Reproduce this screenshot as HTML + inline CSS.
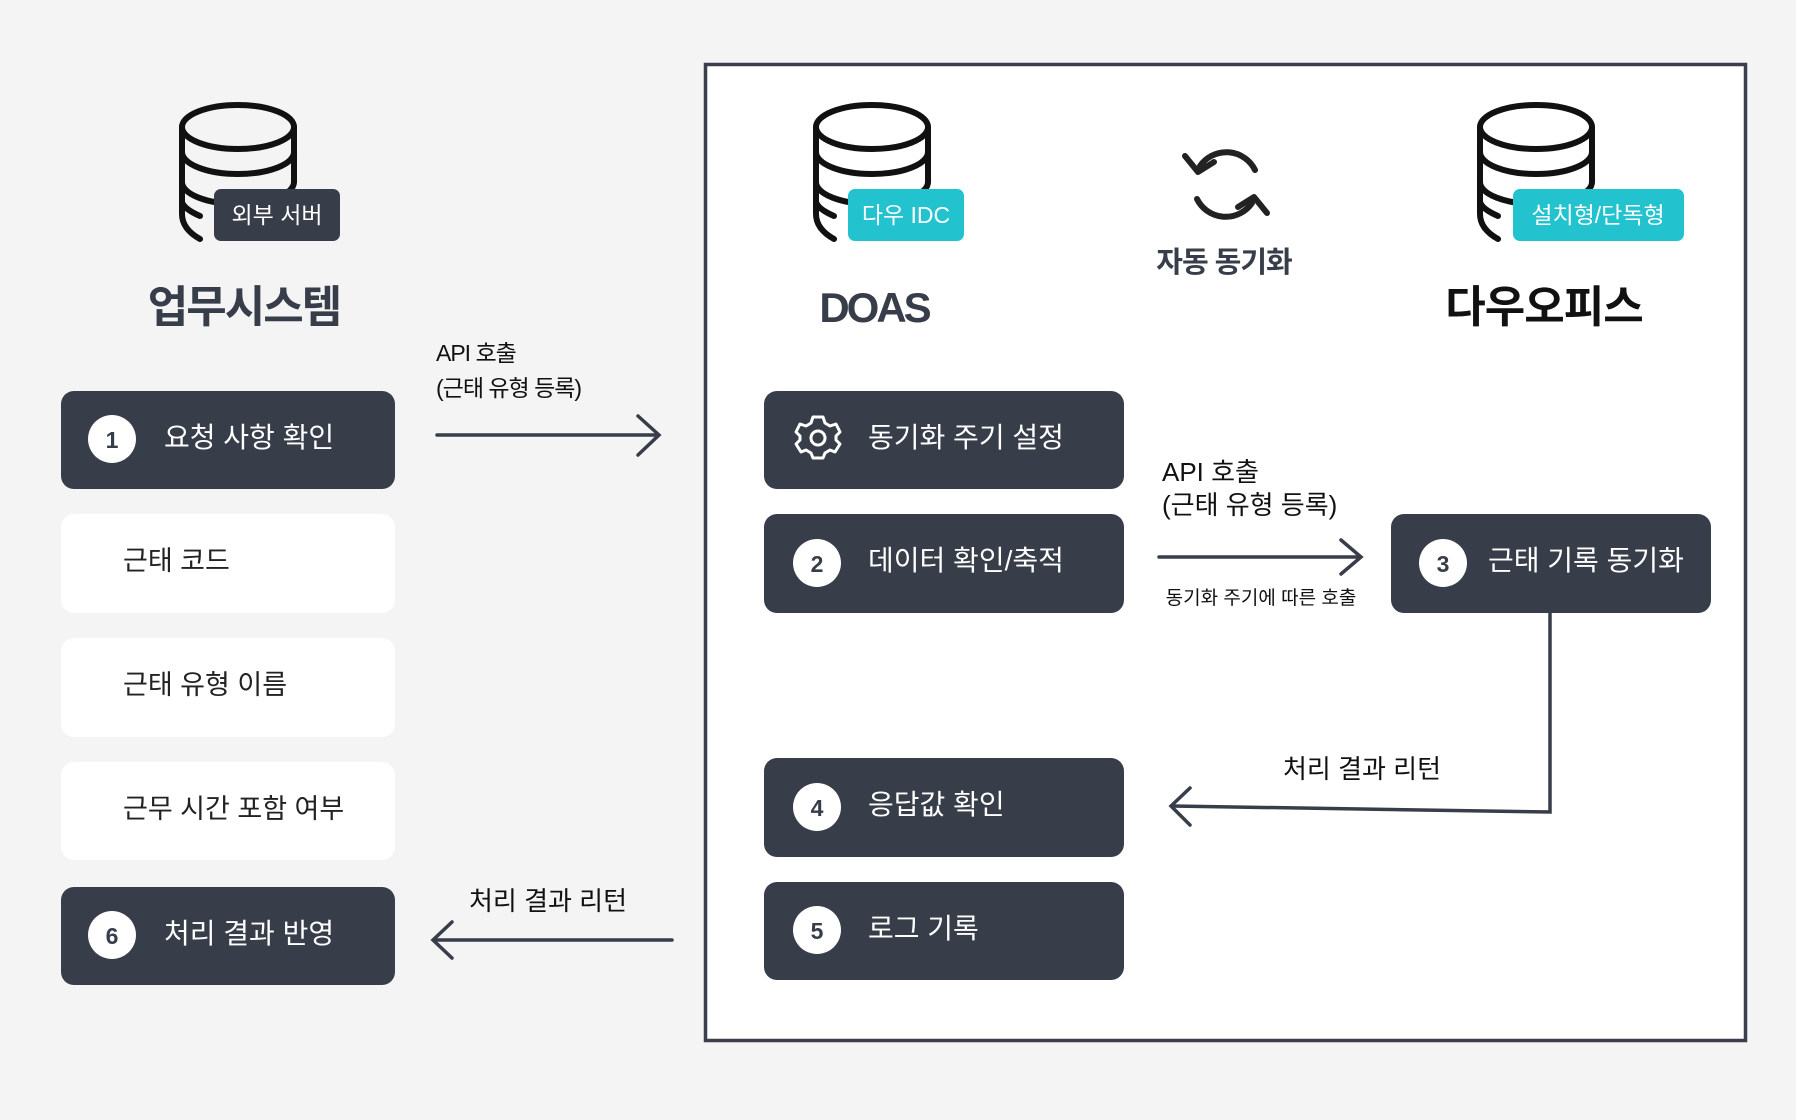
<!DOCTYPE html>
<html><head><meta charset="utf-8"><style>
html,body{margin:0;padding:0;background:#f4f4f4;}
svg{display:block;font-family:"Liberation Sans","Noto Sans CJK KR",sans-serif;}
</style></head><body>
<svg width="1796" height="1120" viewBox="0 0 1796 1120" xmlns="http://www.w3.org/2000/svg">
<rect width="1796" height="1120" fill="#f4f4f4"/>
<rect x="705.5" y="64.5" width="1040" height="976" fill="#fff" stroke="#3a3f4b" stroke-width="3.5"/>
<defs>
<g id="db" fill="none" stroke="#111" stroke-width="6" stroke-linecap="round">
<ellipse cx="0" cy="23" rx="56" ry="22"/>
<path d="M-56,23 V110 Q-56,125 -38,135"/>
<path d="M56,23 V78"/>
<path d="M-56,48 A56,22 0 0 0 56,48"/>
<path d="M-56,78 A56,22 0 0 0 56,78"/>
<path d="M-56,98 Q-54,105 -38,112"/>
</g>
</defs>
<use href="#db" x="238" y="104"/>
<rect x="214" y="189" width="126" height="52" rx="7" fill="#383d4a"/>
<text x="277" y="223" font-size="23" fill="#fff" text-anchor="middle">외부 서버</text>
<use href="#db" x="872" y="104"/>
<rect x="848" y="189" width="116" height="52" rx="7" fill="#22c3cf"/>
<text x="906" y="223" font-size="23" fill="#fff" text-anchor="middle">다우 IDC</text>
<use href="#db" x="1536" y="104"/>
<rect x="1513" y="189" width="171" height="52" rx="7" fill="#22c3cf"/>
<text x="1598" y="223" font-size="23" fill="#fff" text-anchor="middle">설치형/단독형</text>

<text x="244" y="322" font-size="44" font-weight="bold" fill="#383d4a" text-anchor="middle" letter-spacing="-2">업무시스템</text>
<text x="874" y="322" font-size="42" font-weight="bold" fill="#383d4a" text-anchor="middle" letter-spacing="-3">DOAS</text>
<text x="1544" y="322" font-size="44" font-weight="bold" fill="#111" text-anchor="middle" letter-spacing="-1">다우오피스</text>
<g fill="none" stroke="#222" stroke-width="6" stroke-linecap="round" stroke-linejoin="round">
<path d="M1255,170 A32,32 0 0 0 1200,166"/>
<path d="M1185,156 L1198,172 L1214,162"/>
<path d="M1197,199 A32,32 0 0 0 1252,203"/>
<path d="M1267,213 L1254,197 L1238,207"/>
</g>
<text x="1224" y="272" font-size="29" font-weight="bold" fill="#383d4a" text-anchor="middle" letter-spacing="-1">자동 동기화</text>

<rect x="61" y="391" width="334" height="98" rx="13" fill="#383d4a"/>
<circle cx="112" cy="439" r="24" fill="#fff"/><text x="112" y="448" font-size="23" font-weight="bold" fill="#383d4a" text-anchor="middle">1</text>
<text x="164" y="447" font-size="28" fill="#fff">요청 사항 확인</text>
<rect x="61" y="514" width="334" height="99" rx="13" fill="#fff"/>
<text x="123" y="570" font-size="27" fill="#222">근태 코드</text>
<rect x="61" y="638" width="334" height="99" rx="13" fill="#fff"/>
<text x="123" y="694" font-size="27" fill="#222">근태 유형 이름</text>
<rect x="61" y="762" width="334" height="98" rx="13" fill="#fff"/>
<text x="123" y="818" font-size="27" fill="#222">근무 시간 포함 여부</text>
<rect x="61" y="887" width="334" height="98" rx="13" fill="#383d4a"/>
<circle cx="112" cy="935" r="24" fill="#fff"/><text x="112" y="944" font-size="23" font-weight="bold" fill="#383d4a" text-anchor="middle">6</text>
<text x="164" y="943" font-size="28" fill="#fff">처리 결과 반영</text>

<rect x="764" y="391" width="360" height="98" rx="13" fill="#383d4a"/>
<g transform="translate(818,437)" fill="none" stroke="#fff" stroke-width="3" stroke-linejoin="round">
<path d="M-5,-20 L5,-20 L7,-14 L12,-11 L18,-13 L22,-5 L18,-1 L18,3 L22,7 L17,15 L12,13 L7,16 L5,21 L-5,21 L-7,16 L-12,13 L-17,15 L-22,7 L-18,3 L-18,-1 L-22,-5 L-18,-13 L-12,-11 L-7,-14 Z"/>
<circle cx="0" cy="1" r="7"/>
</g>
<text x="868" y="447" font-size="28" fill="#fff">동기화 주기 설정</text>
<rect x="764" y="514" width="360" height="99" rx="13" fill="#383d4a"/>
<circle cx="817" cy="563" r="24" fill="#fff"/><text x="817" y="572" font-size="23" font-weight="bold" fill="#383d4a" text-anchor="middle">2</text>
<text x="868" y="570" font-size="28" fill="#fff">데이터 확인/축적</text>
<rect x="764" y="758" width="360" height="99" rx="13" fill="#383d4a"/>
<circle cx="817" cy="807" r="24" fill="#fff"/><text x="817" y="816" font-size="23" font-weight="bold" fill="#383d4a" text-anchor="middle">4</text>
<text x="868" y="814" font-size="28" fill="#fff">응답값 확인</text>
<rect x="764" y="882" width="360" height="98" rx="13" fill="#383d4a"/>
<circle cx="817" cy="930" r="24" fill="#fff"/><text x="817" y="939" font-size="23" font-weight="bold" fill="#383d4a" text-anchor="middle">5</text>
<text x="868" y="938" font-size="28" fill="#fff">로그 기록</text>
<rect x="1391" y="514" width="320" height="99" rx="13" fill="#383d4a"/>
<circle cx="1443" cy="563" r="24" fill="#fff"/><text x="1443" y="572" font-size="23" font-weight="bold" fill="#383d4a" text-anchor="middle">3</text>
<text x="1488" y="570" font-size="28" fill="#fff">근태 기록 동기화</text>

<g fill="none" stroke="#383d4a" stroke-width="3.5" stroke-linecap="round">
<path d="M437,435 H658"/><path d="M638,416 L659,435 L638,455"/>
<path d="M1159,557 H1360"/><path d="M1341,540 L1361,557 L1341,574"/>
<path d="M1550,613 V812 L1172,806"/><path d="M1190,788 L1171,806 L1190,825"/>
<path d="M434,940 H672"/><path d="M452,922 L433,940 L452,958"/>
</g>
<g font-size="23" fill="#111">
<text x="436" y="361" letter-spacing="-1">API 호출</text>
<text x="436" y="396" letter-spacing="-1">(근태 유형 등록)</text>
<text x="1162" y="481" font-size="26">API 호출</text>
<text x="1162" y="514" font-size="26">(근태 유형 등록)</text>
<text x="1261" y="604" font-size="19" text-anchor="middle">동기화 주기에 따른 호출</text>
<text x="1362" y="778" font-size="26" text-anchor="middle">처리 결과 리턴</text>
<text x="548" y="910" font-size="26" text-anchor="middle">처리 결과 리턴</text>
</g>
</svg>
</body></html>
